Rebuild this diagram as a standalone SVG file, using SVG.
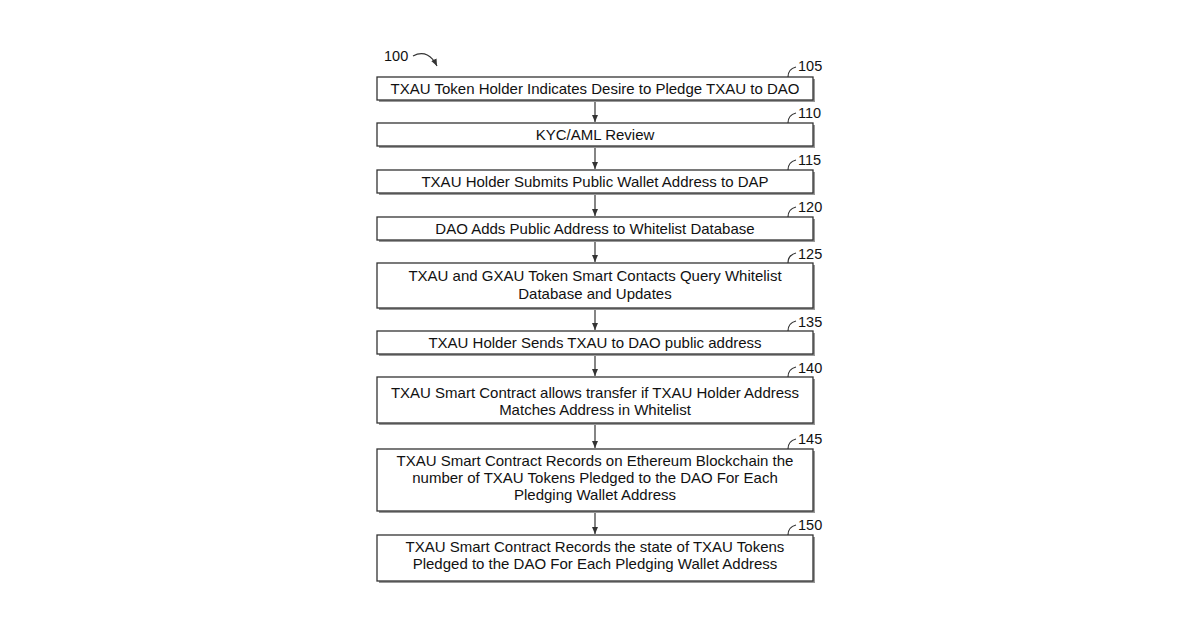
<svg xmlns="http://www.w3.org/2000/svg" width="1200" height="630" viewBox="0 0 1200 630">
<style>
.b{fill:#fff;stroke:#333;stroke-width:1.3}
.s{fill:#999}
.t{font-family:"Liberation Sans",Arial,sans-serif;font-size:15px;fill:#111;text-anchor:middle}
.n{font-family:"Liberation Sans",Arial,sans-serif;font-size:14.5px;fill:#111}
.c{fill:none;stroke:#333;stroke-width:1.2}
</style>
<defs><marker id="a" markerWidth="8" markerHeight="8" refX="7" refY="4" orient="auto" markerUnits="userSpaceOnUse"><path d="M0,1 L7,4 L0,7 Z" fill="#333"/></marker></defs>
<rect width="1200" height="630" fill="#fff"/>
<g id="ref100"><text class="n" x="384" y="61">100</text><path class="c" d="M413,56 C424,50 432,56 437,66" marker-end="url(#a)"/></g>
<g id="n105"><rect class="s" x="379" y="79" width="436" height="23"/><rect class="b" x="377" y="77" width="436" height="23"/><text class="t" x="595" y="94">TXAU Token Holder Indicates Desire to Pledge TXAU to DAO</text><path class="c" d="M788,77 C788,71 792,68 796,67"/><text class="n" x="798" y="71">105</text></g>
<g id="n110"><rect class="s" x="379" y="125" width="436" height="23"/><rect class="b" x="377" y="123" width="436" height="23"/><text class="t" x="595" y="140">KYC/AML Review</text><path class="c" d="M788,123 C788,117 792,114 796,113"/><text class="n" x="798" y="118">110</text></g>
<g id="n115"><rect class="s" x="379" y="172" width="436" height="23"/><rect class="b" x="377" y="170" width="436" height="23"/><text class="t" x="595" y="187">TXAU Holder Submits Public Wallet Address to DAP</text><path class="c" d="M788,170 C788,164 792,161 796,160"/><text class="n" x="798" y="165">115</text></g>
<g id="n120"><rect class="s" x="379" y="219" width="436" height="23"/><rect class="b" x="377" y="217" width="436" height="23"/><text class="t" x="595" y="234">DAO Adds Public Address to Whitelist Database</text><path class="c" d="M788,217 C788,211 792,208 796,207"/><text class="n" x="798" y="212">120</text></g>
<g id="n125"><rect class="s" x="379" y="265" width="436" height="45"/><rect class="b" x="377" y="263" width="436" height="45"/><text class="t" x="595" y="281">TXAU and GXAU Token Smart Contacts Query Whitelist</text><text class="t" x="595" y="299">Database and Updates</text><path class="c" d="M788,263 C788,257 792,254 796,253"/><text class="n" x="798" y="259">125</text></g>
<g id="n135"><rect class="s" x="379" y="333" width="436" height="23"/><rect class="b" x="377" y="331" width="436" height="23"/><text class="t" x="595" y="348">TXAU Holder Sends TXAU to DAO public address</text><path class="c" d="M788,331 C788,325 792,322 796,321"/><text class="n" x="798" y="327">135</text></g>
<g id="n140"><rect class="s" x="379" y="379" width="436" height="46"/><rect class="b" x="377" y="377" width="436" height="46"/><text class="t" x="595" y="398">TXAU Smart Contract allows transfer if TXAU Holder Address</text><text class="t" x="595" y="415">Matches Address in Whitelist</text><path class="c" d="M788,377 C788,371 792,368 796,367"/><text class="n" x="798" y="373">140</text></g>
<g id="n145"><rect class="s" x="379" y="451" width="436" height="62"/><rect class="b" x="377" y="449" width="436" height="62"/><text class="t" x="595" y="466">TXAU Smart Contract Records on Ethereum Blockchain the</text><text class="t" x="595" y="483">number of TXAU Tokens Pledged to the DAO For Each</text><text class="t" x="595" y="500">Pledging Wallet Address</text><path class="c" d="M788,449 C788,443 792,440 796,439"/><text class="n" x="798" y="444">145</text></g>
<g id="n150"><rect class="s" x="379" y="537" width="436" height="46"/><rect class="b" x="377" y="535" width="436" height="46"/><text class="t" x="595" y="552">TXAU Smart Contract Records the state of TXAU Tokens</text><text class="t" x="595" y="569">Pledged to the DAO For Each Pledging Wallet Address</text><path class="c" d="M788,535 C788,529 792,526 796,525"/><text class="n" x="798" y="530">150</text></g>
<g id="connectors" class="c">
<path class="c" d="M595,102 V122" marker-end="url(#a)"/>
<path class="c" d="M595,148 V169" marker-end="url(#a)"/>
<path class="c" d="M595,195 V216" marker-end="url(#a)"/>
<path class="c" d="M595,242 V262" marker-end="url(#a)"/>
<path class="c" d="M595,310 V330" marker-end="url(#a)"/>
<path class="c" d="M595,356 V376" marker-end="url(#a)"/>
<path class="c" d="M595,425 V448" marker-end="url(#a)"/>
<path class="c" d="M595,513 V534" marker-end="url(#a)"/>
</g>
</svg>
